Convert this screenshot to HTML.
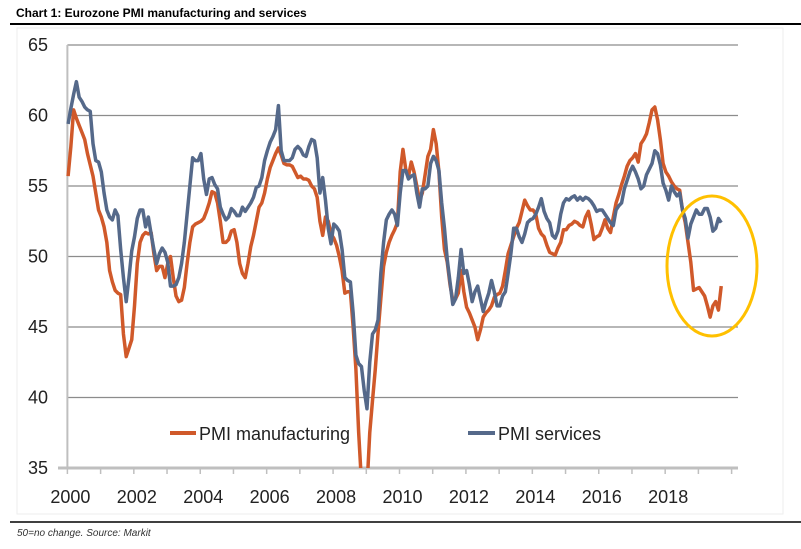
<!DOCTYPE html>
<html><head><meta charset="utf-8"><style>
body{margin:0;background:#fff;}
svg{display:block;font-family:"Liberation Sans",sans-serif;}
</style></head><body>
<svg id="chart" width="801" height="549" viewBox="0 0 801 549">
<text x="16" y="17" font-size="12" font-weight="bold" fill="#000">Chart 1: Eurozone PMI manufacturing and services</text>
<line x1="10" y1="24" x2="801" y2="24" stroke="#000" stroke-width="2"/>
<rect x="17" y="28" width="766" height="486" fill="none" stroke="#eeeeee"/>
<g id="grid"></g>
<g id="yticks"></g>
<g id="xticks"></g>
<defs><clipPath id="pc"><rect x="60" y="30" width="700" height="438"/></clipPath></defs>
<g clip-path="url(#pc)" id="series"></g>
<ellipse cx="712" cy="266" rx="45" ry="70" fill="none" stroke="#ffc000" stroke-width="3"/>
<g>
<line x1="170" y1="433" x2="196" y2="433" stroke="#d0592a" stroke-width="4"/>
<text x="199" y="440" font-size="18" fill="#222">PMI manufacturing</text>
<line x1="468" y1="433" x2="495" y2="433" stroke="#55698a" stroke-width="4"/>
<text x="498" y="440" font-size="18" fill="#222">PMI services</text>
</g>
<line x1="10" y1="522" x2="801" y2="522" stroke="#000" stroke-width="1.5"/>
<text x="17" y="536" font-size="10" font-style="italic" fill="#333">50=no change. Source: Markit</text>
</svg>
<script>
const yTicks=[35,40,45,50,55,60,65];
const xLabels=["2000","2002","2004","2006","2008","2010","2012","2014","2016","2018"];
const startYear=2000, nYears=20;
const manufacturing=[
55.7,57.8,60.4,59.8,59.3,58.8,58.3,57.3,56.5,55.7,54.5,53.3,
52.8,52.1,51.0,49.0,48.2,47.6,47.4,47.3,44.5,42.9,43.5,44.1,
46.5,49.5,51.0,51.5,51.7,51.6,51.7,50.2,49.0,49.3,49.3,48.5,
49.5,50.0,48.5,47.2,46.8,46.9,47.8,49.5,51.0,52.1,52.3,52.4,
52.5,52.7,53.2,53.8,54.6,54.5,53.8,52.5,51.0,51.0,51.2,51.8,
51.9,51.0,49.5,48.8,48.5,49.5,50.7,51.5,52.5,53.5,53.8,54.5,
55.5,56.3,56.8,57.3,57.7,57.2,56.6,56.5,56.5,56.4,56.0,55.6,
55.7,55.5,55.5,55.4,55.0,54.8,54.2,52.5,51.5,52.8,52.5,51.6,
51.3,50.8,50.0,49.0,47.4,47.5,47.5,45.0,42.0,37.5,34.0,33.5,
33.6,37.5,39.8,42.0,44.6,47.0,49.3,50.3,51.0,51.5,51.9,52.4,
56.0,57.6,56.2,55.7,56.7,56.0,55.0,54.0,54.5,55.8,57.1,57.6,
59.0,58.0,56.0,52.8,50.5,49.6,48.0,46.9,47.0,47.4,49.0,47.5,
46.4,46.0,45.5,45.0,44.1,44.8,45.7,46.0,46.2,46.5,47.1,47.3,
47.4,47.9,49.0,50.2,50.8,51.4,52.0,52.4,53.2,54.0,53.6,53.3,
53.3,53.0,52.0,51.6,51.4,50.8,50.3,50.2,50.1,50.6,51.0,51.9,
51.9,52.2,52.3,52.5,52.4,52.2,52.1,52.8,53.2,52.3,51.2,51.4,
51.5,52.0,52.6,52.0,51.7,52.8,53.8,54.4,55.1,55.7,56.4,56.8,
57.0,57.3,56.7,58.0,58.3,58.7,59.5,60.4,60.6,59.7,58.3,56.6,
56.0,55.7,55.3,55.0,54.8,54.7,53.3,52.4,51.0,49.6,47.6,47.7,
47.8,47.5,47.2,46.5,45.7,46.5,46.8,46.2,47.9];
const services=[
59.4,60.5,61.5,62.4,61.3,61.0,60.6,60.4,60.3,58.0,56.8,56.7,
56.0,54.5,53.3,52.8,52.6,53.3,52.9,50.5,48.5,46.8,48.5,50.4,
51.4,52.7,53.3,53.3,52.1,52.8,51.6,50.5,49.5,50.2,50.6,50.3,
49.6,47.9,47.9,48.0,48.5,49.5,51.0,53.0,55.0,57.0,56.8,56.8,
57.3,55.5,54.4,55.5,55.6,55.1,54.8,53.5,53.0,52.6,52.8,53.4,
53.2,52.9,52.9,53.5,53.2,53.5,53.8,54.2,54.9,55.0,55.6,56.8,
57.5,58.1,58.5,59.0,60.7,57.5,56.8,56.8,56.8,57.0,57.6,57.8,
57.6,57.2,57.1,57.8,58.3,58.2,57.0,54.5,55.6,54.0,52.0,50.9,
52.3,52.1,51.8,50.5,48.5,48.3,48.2,46.0,43.0,42.4,42.2,40.5,
39.2,42.5,44.5,44.8,45.5,48.8,51.0,52.6,53.0,53.3,53.0,52.2,
54.5,56.1,56.1,55.5,55.7,55.8,54.5,53.5,54.8,54.8,55.0,56.6,
57.1,56.8,56.1,53.8,52.0,49.8,48.2,46.6,47.0,48.5,50.5,48.8,
49.0,48.0,46.8,47.5,47.9,47.0,46.1,46.8,47.4,48.3,47.5,46.5,
46.5,47.2,47.5,48.8,50.2,52.0,52.0,51.4,51.0,51.6,52.4,52.6,
52.7,53.0,53.5,54.1,53.2,52.7,52.4,51.5,51.3,51.8,53.0,53.8,
54.1,54.0,54.2,54.3,54.0,54.2,54.0,54.2,54.1,53.9,53.6,53.2,
53.3,53.3,53.0,52.7,52.4,52.2,53.3,53.6,53.8,54.8,55.4,56.0,
56.4,56.0,55.5,54.8,55.0,55.8,56.2,56.6,57.5,57.3,56.5,55.2,
54.7,54.0,55.0,54.6,54.3,54.5,53.3,52.7,51.3,52.3,52.8,53.3,
53.0,53.0,53.4,53.4,52.8,51.8,52.0,52.7,52.4];

const NS="http://www.w3.org/2000/svg";
const X0=67.4, X1=731.6, Y65=45, Y35=468, GX1=738;
function yScale(v){return Y35-(v-35)*(Y35-Y65)/30;}
function xYear(y){return X0+(y-startYear)*(X1-X0)/nYears;}
function xMonth(i){return X0+(i+0.25)*(X1-X0)/(nYears*12);}
function mk(tag,attrs,parent){const e=document.createElementNS(NS,tag);for(const k in attrs)e.setAttribute(k,attrs[k]);parent.appendChild(e);return e;}

const grid=document.getElementById('grid'), yt=document.getElementById('yticks'), xt=document.getElementById('xticks');
yTicks.forEach(v=>{
  const y=yScale(v);
  const l=mk('line',{x1:v===35?58:X0,y1:y,x2:GX1,y2:y,stroke:v===35?'#bfbfbf':'#8c8c8c','stroke-width':v===35?3:1.2},grid);
  
  
  const t=mk('text',{x:48,y:y+6,'font-size':18,'text-anchor':'end',fill:'#222'},yt);
  t.textContent=v;
  
  
});
const ax=mk('line',{x1:X0,y1:Y65,x2:X0,y2:Y35,stroke:'#bfbfbf','stroke-width':2},grid);


for(let k=0;k<=nYears;k++){
  const x=xYear(startYear+k);
  const tk=mk('line',{x1:x,y1:Y35,x2:x,y2:Y35+6,stroke:'#bfbfbf','stroke-width':1.5},xt);
  
  
}
xLabels.forEach(s=>{
  const t=mk('text',{x:xYear(+s)+3,y:503,'font-size':18,'text-anchor':'middle',fill:'#222'},xt);
  t.textContent=s;
  
  
});
const ser=document.getElementById('series');
function line(data,color,name){
  const d=data.map((v,i)=>(i?'L':'M')+xMonth(i).toFixed(2)+','+yScale(v).toFixed(2)).join('');
  const p=mk('path',{d:d,fill:'none',stroke:color,'stroke-width':3.5,'stroke-linejoin':'round'},ser);
  
  
}
line(manufacturing,'#d0592a','line-pmi-manufacturing');
line(services,'#55698a','line-pmi-services');
</script>
</body></html>
